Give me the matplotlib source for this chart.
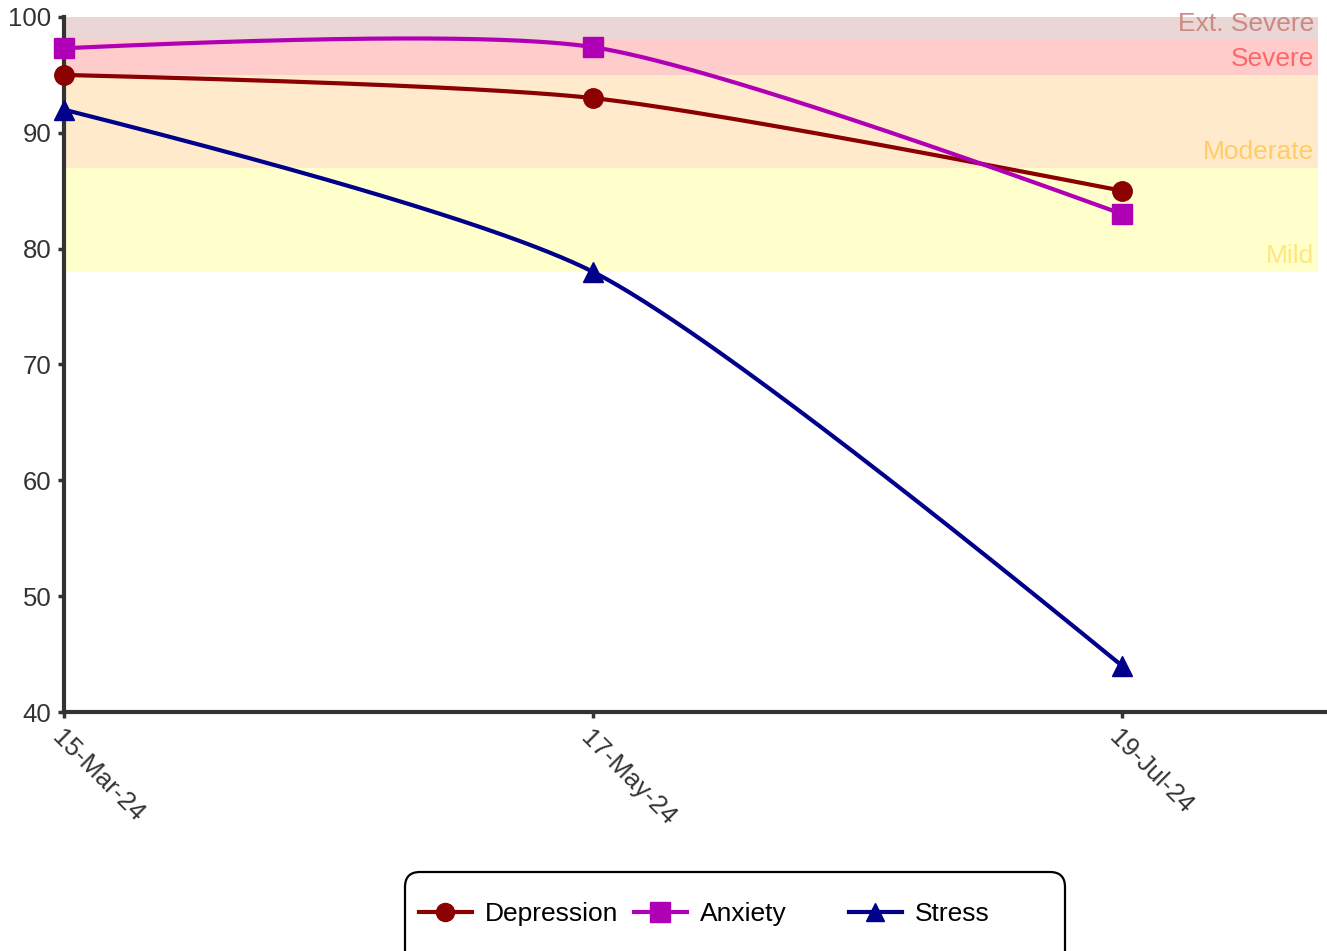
import numpy as np
import matplotlib.pyplot as plt
from matplotlib.patches import FancyBboxPatch
from matplotlib.lines import Line2D

plt.rcParams['font.family'] = ['Liberation Sans', 'DejaVu Sans']

# data
dates = ["15-Mar-24", "17-May-24", "19-Jul-24"]
depression = [95, 93, 85]
anxiety = [97.3, 97.4, 83]
stress = [92, 78, 44]

# severity bands
band_names = ["Mild", "Moderate", "Severe", "Ext. Severe"]
band_lo = [78, 87, 95, 98]
band_hi = [87, 95, 98, 100]
band_fill = ["#FFFFCC", "#FFEBCC", "#FFCCCC", "#EBD6D6"]
band_text = ["#FFE680", "#FFCC66", "#FF6666", "#CC8A85"]

SMOOTH = 0.67


def spline_path(ax, xv, yv, s=SMOOTH, n=100):
    # smooth the line in screen space: quadratic end pieces, cubic middle
    P = ax.transData.transform(np.column_stack([xv, yv]))
    left, right = {}, {}
    for i in range(1, len(P) - 1):
        d1 = P[i - 1] - P[i]
        d2 = P[i + 1] - P[i]
        d1a = np.hypot(*d1) ** 0.5
        d2a = np.hypot(*d2) ** 0.5
        num = (d2a**2 * d1 - d1a**2 * d2) * s
        left[i] = P[i] + num / (3 * d2a * (d1a + d2a))
        right[i] = P[i] - num / (3 * d1a * (d1a + d2a))
    t = np.linspace(0, 1, n)[:, None]
    pieces = []
    last = len(P) - 1
    for i in range(last):
        a, b = P[i], P[i + 1]
        if i == 0:
            c = left[1]
            seg = (1 - t)**2 * a + 2 * t * (1 - t) * c + t**2 * b
        elif i == last - 1:
            c = right[i]
            seg = (1 - t)**2 * a + 2 * t * (1 - t) * c + t**2 * b
        else:
            c1, c2 = right[i], left[i + 1]
            seg = ((1 - t)**3 * a + 3 * t * (1 - t)**2 * c1
                   + 3 * t**2 * (1 - t) * c2 + t**3 * b)
        pieces.append(seg)
    pts = ax.transData.inverted().transform(np.vstack(pieces))
    return pts[:, 0], pts[:, 1]


fig = plt.figure(figsize=(13.27, 9.51), dpi=100)
ax = fig.add_axes([64 / 1327, 1 - 712 / 951, 1261 / 1327, 695 / 951])
ax.set_xlim(0, 2.384)
ax.set_ylim(40, 100)

for name, lo, hi, fc, tc in zip(band_names, band_lo, band_hi, band_fill, band_text):
    ax.axhspan(lo, hi, xmin=0, xmax=0.9945, color=fc, lw=0, zorder=0)
    ax.annotate(name, xy=(0.9945, lo), xycoords=ax.get_yaxis_transform(),
                xytext=(-3, 6.5), textcoords='offset points',
                ha='right', va='baseline', color=tc, fontsize=19, zorder=1)

series = [
    ("Depression", depression, "#8B0000", "o", 14),
    ("Anxiety", anxiety, "#B000B5", "s", 15),
    ("Stress", stress, "#00008B", "^", 14),
]
x = np.arange(len(dates))
handles = []
for name, vals, col, mk, ms in series:
    sx, sy = spline_path(ax, x, vals)
    ax.plot(sx, sy, color=col, lw=3, zorder=3, solid_capstyle='round')
    ax.plot(x, vals, ls='none', marker=mk, ms=ms, color=col, zorder=4,
            clip_on=False)
    handles.append(Line2D([], [], color=col, lw=3, marker=mk, ms=ms - 1))

ax.set_yticks(range(40, 101, 10))
ax.set_xticks(x)
ax.set_xticklabels(dates, rotation=-45, ha='left', va='top',
                   rotation_mode='anchor')

for s in ['top', 'right']:
    ax.spines[s].set_visible(False)
for s in ['left', 'bottom']:
    ax.spines[s].set_color('#333333')
    ax.spines[s].set_linewidth(3)
ax.tick_params(axis='both', colors='#333333', labelcolor='#333333',
               length=4, width=2.5, labelsize=18.5)
ax.tick_params(axis='y', pad=5)
ax.tick_params(axis='x', pad=6)

# legend: three entries at fixed pitch inside a rounded box
for i, (h, (name, *_rest)) in enumerate(zip(handles, series)):
    fig.legend([h], [name], loc='center left',
               bbox_to_anchor=((419 + 215 * i) / 1327, 37 / 951),
               frameon=False, borderpad=0, borderaxespad=0,
               handlelength=2.0, handletextpad=0.5, fontsize=19)

box = FancyBboxPatch((4.05, -0.3), 6.6, 1.09,
                     boxstyle="round,pad=0,rounding_size=0.15",
                     transform=fig.dpi_scale_trans, fc='white', ec='black',
                     lw=1.6, zorder=-1)
fig.patches.append(box)

fig.savefig("out.png", dpi=100)
